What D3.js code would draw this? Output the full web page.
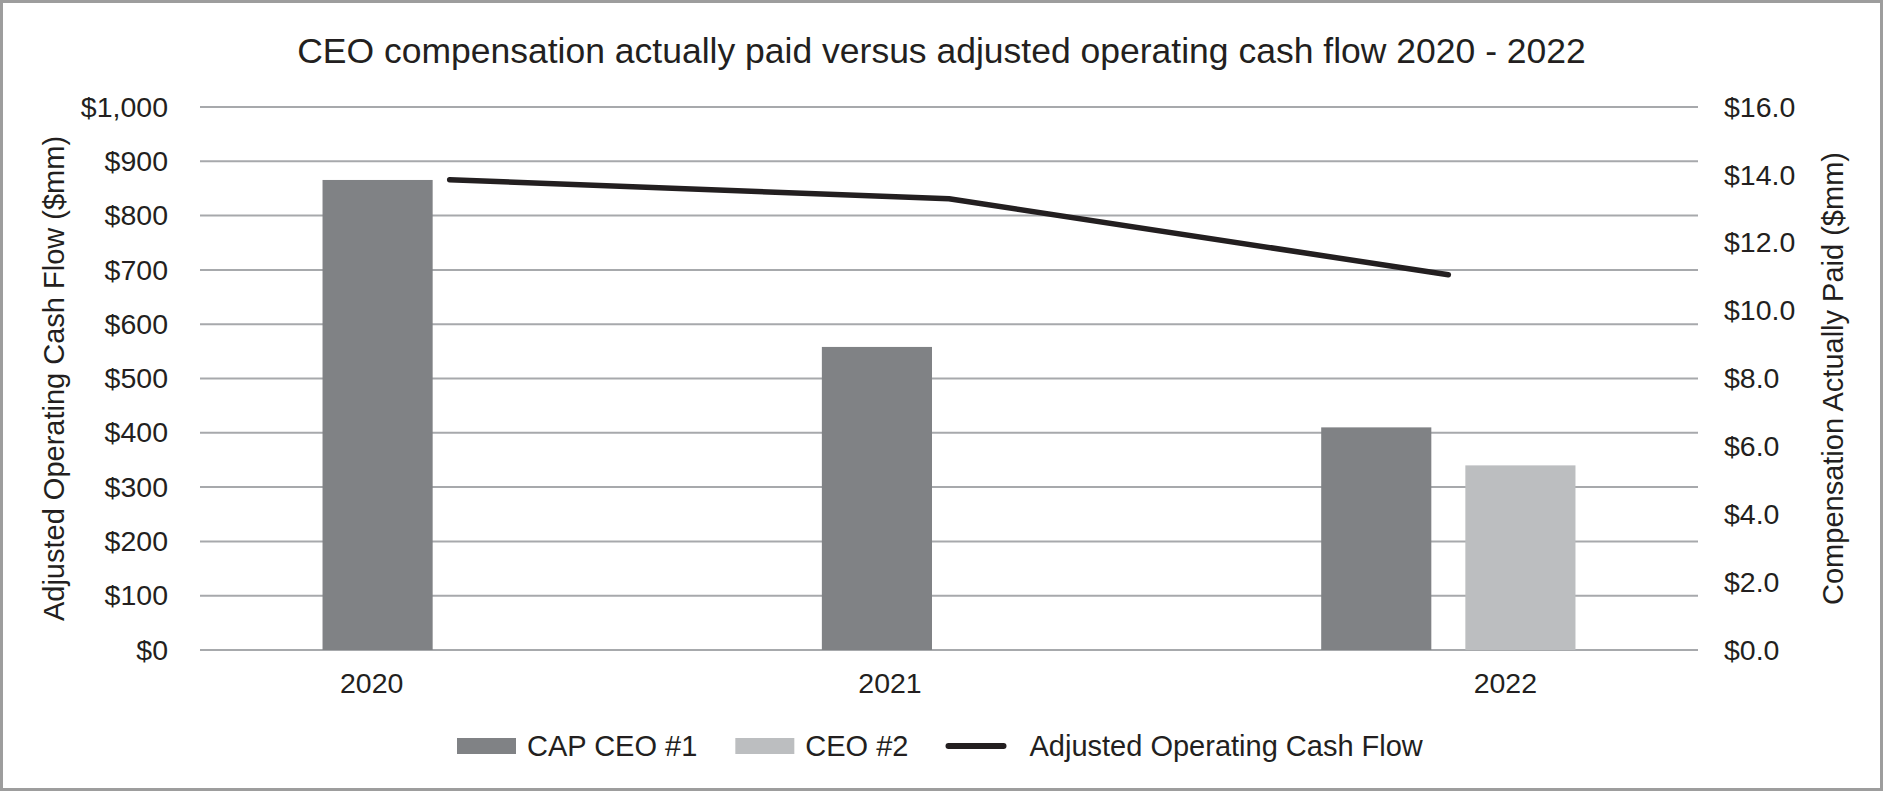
<!DOCTYPE html>
<html>
<head>
<meta charset="utf-8">
<script src="https://cdn.jsdelivr.net/npm/d3@7"></script>
<style>
  body { margin: 0; background: #fff; }
  svg { display: block; font-family: "Liberation Sans", Arial, sans-serif; }
</style>
</head>
<body>
<svg id="chart"></svg>
<script>
// data
const years = ["2020", "2021", "2022"];
const barSeries = ["CAP CEO #1", "CEO #2"];
const capCeo1 = [13.85, 8.93, 6.56];      // $mm, right axis
const ceo2 = [null, null, 5.44];          // $mm, right axis
const cashFlow = [866, 831, 691];         // $mm, left axis
const leftTicks = [0, 100, 200, 300, 400, 500, 600, 700, 800, 900, 1000];
const rightTicks = [0, 2, 4, 6, 8, 10, 12, 14, 16];

const width = 1883;
const height = 791;
const margin = { top: 107, right: 185, bottom: 141, left: 200 };

const svg = d3.select("#chart")
  .attr("width", width)
  .attr("height", height);

// outer frame
svg.append("rect")
  .attr("x", 1.5).attr("y", 1.5)
  .attr("width", width - 3).attr("height", height - 3)
  .attr("fill", "#fff")
  .attr("stroke", "#9d9d9d")
  .attr("stroke-width", 3);

svg.append("text")
  .attr("x", width / 2)
  .attr("y", 63)
  .attr("text-anchor", "middle")
  .attr("font-size", 35.5)
  .attr("fill", "#231f20")
  .text("CEO compensation actually paid versus adjusted operating cash flow 2020 - 2022");

const x0 = d3.scaleBand()
  .domain(years)
  .range([margin.left, width - margin.right]);

const x1 = d3.scaleBand()
  .domain(barSeries)
  .range([0, x0.bandwidth()])
  .paddingInner(0.236)
  .paddingOuter(0.85);

const yLeft = d3.scaleLinear()
  .domain([0, 1000])
  .range([height - margin.bottom, margin.top]);

const yRight = d3.scaleLinear()
  .domain([0, 16])
  .range([height - margin.bottom, margin.top]);

// gridlines
svg.append("g")
  .selectAll("line")
  .data(leftTicks)
  .join("line")
  .attr("x1", margin.left)
  .attr("x2", width - margin.right)
  .attr("y1", d => yLeft(d))
  .attr("y2", d => yLeft(d))
  .attr("stroke", "#a7a9ac")
  .attr("stroke-width", 2);

// bars
const rows = years.map((y, i) => ({
  year: y,
  values: [
    { key: barSeries[0], value: capCeo1[i] },
    { key: barSeries[1], value: ceo2[i] }
  ]
}));
const barColor = d3.scaleOrdinal().domain(barSeries).range(["#808285", "#bcbec0"]);

svg.append("g")
  .selectAll("g")
  .data(rows)
  .join("g")
  .attr("transform", d => `translate(${x0(d.year)},0)`)
  .selectAll("rect")
  .data(d => d.values.filter(v => v.value != null))
  .join("rect")
  .attr("x", d => x1(d.key))
  .attr("width", x1.bandwidth())
  .attr("y", d => yRight(d.value))
  .attr("height", d => yRight(0) - yRight(d.value))
  .attr("fill", d => barColor(d.key));

// cash flow line
const line = d3.line()
  .x((d, i) => x0(years[i]) + x0.bandwidth() / 2)
  .y(d => yLeft(d));

svg.append("path")
  .datum(cashFlow)
  .attr("fill", "none")
  .attr("stroke", "#231f20")
  .attr("stroke-width", 5.5)
  .attr("stroke-linecap", "round")
  .attr("stroke-linejoin", "round")
  .attr("d", line);

// axes
const fmtLeft = d => "$" + d3.format(",")(d);
const fmtRight = d => "$" + d3.format(".1f")(d);

const leftAxis = svg.append("g")
  .attr("transform", `translate(${margin.left - 32},0)`)
  .call(d3.axisLeft(yLeft).tickValues(leftTicks).tickFormat(fmtLeft).tickSize(0));

const rightAxis = svg.append("g")
  .attr("transform", `translate(${width - margin.right + 26},0)`)
  .call(d3.axisRight(yRight).tickValues(rightTicks).tickFormat(fmtRight).tickSize(0));

// the year labels in the picture sit off the band centres
const yearShift = [-78, -59, 57];
const bottomAxis = svg.append("g")
  .attr("transform", `translate(0,${height - margin.bottom + 20})`)
  .call(d3.axisBottom(x0).tickSize(0));
bottomAxis.selectAll(".tick text")
  .attr("dx", (d, i) => yearShift[i])
  .attr("dy", "0.71em");

[leftAxis, rightAxis, bottomAxis].forEach(a => {
  a.select(".domain").remove();
  a.selectAll(".tick text")
    .attr("font-family", "Liberation Sans, Arial, sans-serif")
    .attr("font-size", 28.5)
    .attr("fill", "#231f20")
    .attr("x", 0);
});

// axis titles
const midY = (yLeft(0) + yLeft(1000)) / 2;
svg.append("text")
  .attr("transform", `translate(64,${midY}) rotate(-90)`)
  .attr("text-anchor", "middle")
  .attr("font-size", 29)
  .attr("fill", "#231f20")
  .text("Adjusted Operating Cash Flow ($mm)");

svg.append("text")
  .attr("transform", `translate(1843,${midY}) rotate(-90)`)
  .attr("text-anchor", "middle")
  .attr("font-size", 29)
  .attr("fill", "#231f20")
  .text("Compensation Actually Paid ($mm)");

// legend
const legendItems = [
  { label: barSeries[0], type: "rect", color: "#808285" },
  { label: barSeries[1], type: "rect", color: "#bcbec0" },
  { label: "Adjusted Operating Cash Flow", type: "line", color: "#231f20" }
];
const legend = svg.append("g").attr("transform", "translate(457,746)");
let lx = 0;
legendItems.forEach(item => {
  const g = legend.append("g").attr("transform", `translate(${lx},0)`);
  if (item.type === "rect") {
    g.append("rect").attr("x", 0).attr("y", -8).attr("width", 59).attr("height", 16).attr("fill", item.color);
  } else {
    g.append("line").attr("x1", 2).attr("x2", 57).attr("y1", 0).attr("y2", 0)
      .attr("stroke", item.color).attr("stroke-width", 6).attr("stroke-linecap", "round");
  }
  const tx = item.type === "rect" ? 70 : 83;
  const t = g.append("text")
    .attr("x", tx)
    .attr("y", 0)
    .attr("dy", "0.35em")
    .attr("font-size", 29)
    .attr("fill", "#231f20")
    .text(item.label);
  lx += tx + t.node().getComputedTextLength() + 38;
});
</script>
</body>
</html>
